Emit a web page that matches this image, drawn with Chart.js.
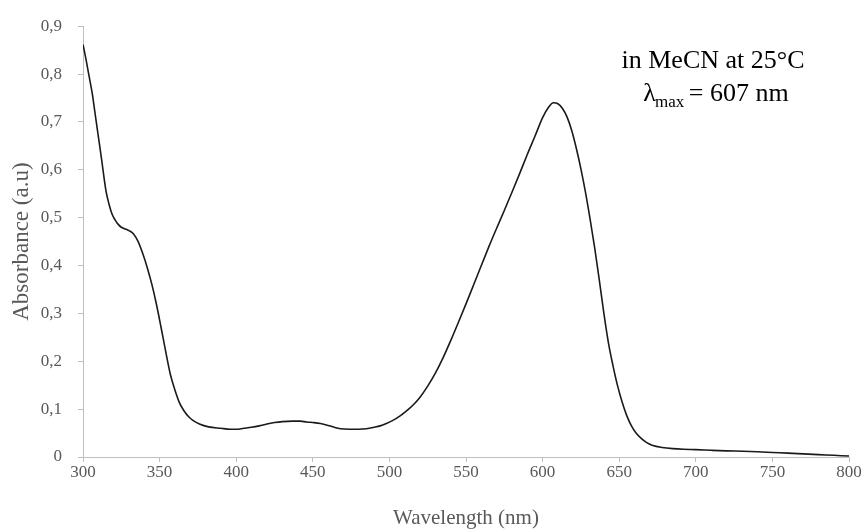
<!DOCTYPE html>
<html>
<head>
<meta charset="utf-8">
<script src="https://cdn.jsdelivr.net/npm/chart.js@4"></script>
<style>
  html, body { margin: 0; padding: 0; background: #fff; }
  #wrap { width: 867px; height: 531px; }
</style>
</head>
<body>
<div id="wrap"><canvas id="spectrum" width="867" height="531"></canvas></div>
<script>
// UV-Vis spectrum
const wavelengths = [
  300, 302, 304, 306, 308, 310, 312, 315, 317, 319, 321, 323, 325, 327, 330, 333, 336, 339, 342, 345,
  348, 351, 354, 357, 360, 363, 366, 369, 372, 376, 382, 390, 396, 400, 405, 410, 415,
  420, 425, 430, 437, 442, 446, 450, 455, 460, 464, 468, 474, 480, 485, 490, 494, 498, 502, 507, 511,
  515, 520, 525, 530, 535, 540, 545, 550, 555, 560, 565, 570, 575, 580, 585, 590, 595, 600, 604, 607,
  610, 613, 616, 619, 622, 625, 628, 631, 634, 637, 640, 643, 646, 649, 652, 655, 658, 661, 664, 668,
  672, 678, 685, 692, 700, 710, 720, 731, 740, 750, 760, 770, 780, 790, 800
];
const absorbance = [
  0.862, 0.83, 0.795, 0.76, 0.715, 0.67, 0.625, 0.556, 0.528, 0.507, 0.495, 0.486, 0.48, 0.477, 0.473, 0.466, 0.45, 0.425, 0.395, 0.36,
  0.318, 0.27, 0.22, 0.173, 0.14, 0.113, 0.096, 0.084, 0.076, 0.069, 0.063, 0.06, 0.058, 0.058, 0.06, 0.062, 0.065,
  0.069, 0.072, 0.074, 0.075, 0.075, 0.073, 0.072, 0.07, 0.066, 0.062, 0.059, 0.058, 0.058, 0.059, 0.062, 0.065, 0.07, 0.076, 0.086, 0.096,
  0.107, 0.125, 0.148, 0.175, 0.207, 0.243, 0.281, 0.32, 0.36, 0.4, 0.44, 0.478, 0.515, 0.553, 0.592, 0.632, 0.67, 0.709, 0.731, 0.74,
  0.738, 0.728, 0.71, 0.682, 0.645, 0.602, 0.553, 0.497, 0.437, 0.37, 0.3, 0.238, 0.19, 0.148, 0.114, 0.086, 0.065, 0.05, 0.04, 0.03,
  0.024, 0.02, 0.0175, 0.0162, 0.0154, 0.014, 0.0128, 0.012, 0.011, 0.0095, 0.008, 0.0065, 0.005, 0.0035, 0.002
];
const xTicks = [300, 350, 400, 450, 500, 550, 600, 650, 700, 750, 800];
const yTicks = [0, 0.1, 0.2, 0.3, 0.4, 0.5, 0.6, 0.7, 0.8, 0.9];
const noteLine1 = 'in MeCN at 25°C';
const noteLambda = 'λ';
const noteSub = 'max';
const noteRest = ' = 607 nm';

const serif = "'Liberation Serif', 'DejaVu Serif', serif";
const axisGrey = '#bfbfbf';
const labelGrey = '#595959';

function commaLabel(v) {
  if (v === 0) return '0';
  return v.toFixed(1).replace('.', ',');
}

// text box in the top right corner
const notePlugin = {
  id: 'note',
  afterDraw(chart) {
    const ctx = chart.ctx;
    const big = '26px ' + serif;
    const small = '17px ' + serif;
    ctx.save();
    ctx.fillStyle = '#000';
    ctx.textBaseline = 'alphabetic';

    ctx.font = big;
    ctx.textAlign = 'center';
    ctx.fillText(noteLine1, 713, 68);

    // lambda max line, drawn piece by piece for the subscript
    ctx.textAlign = 'left';
    const wL = ctx.measureText(noteLambda).width;
    const wR = ctx.measureText(noteRest).width;
    ctx.font = small;
    const wS = ctx.measureText(noteSub).width;
    let x = 716 - (wL + wS + wR - 3) / 2;
    ctx.font = big;
    ctx.fillText(noteLambda, x, 101);
    x += wL - 1;
    ctx.font = small;
    ctx.fillText(noteSub, x, 107);
    x += wS - 2;
    ctx.font = big;
    ctx.fillText(noteRest, x, 101);
    ctx.restore();
  }
};

const points = wavelengths.map((w, i) => ({ x: w, y: absorbance[i] }));

new Chart(document.getElementById('spectrum'), {
  type: 'scatter',
  data: {
    datasets: [{
      data: points,
      showLine: true,
      borderColor: '#1a1a1a',
      borderWidth: 1.6,
      pointRadius: 0,
      cubicInterpolationMode: 'monotone'
    }]
  },
  options: {
    responsive: false,
    animation: false,
    events: [],
    layout: { padding: { top: 25, right: 18, left: 0, bottom: 0 } },
    plugins: {
      legend: { display: false },
      tooltip: { enabled: false }
    },
    scales: {
      x: {
        type: 'linear',
        min: 300,
        max: 800,
        afterBuildTicks: s => { s.ticks = xTicks.map(v => ({ value: v })); },
        afterFit: s => { s.height = 74; },
        ticks: {
          color: labelGrey,
          font: { family: serif, size: 17 },
          padding: 0,
          maxRotation: 0
        },
        grid: { drawOnChartArea: false, color: axisGrey, tickLength: 5 },
        border: { color: axisGrey },
        title: {
          display: true,
          text: 'Wavelength (nm)',
          color: labelGrey,
          font: { family: serif, size: 21 },
          padding: { top: 0, bottom: 0 }
        }
      },
      y: {
        min: 0,
        max: 0.9,
        afterBuildTicks: s => { s.ticks = yTicks.map(v => ({ value: v })); },
        afterFit: s => { s.width = 83; },
        ticks: {
          color: labelGrey,
          font: { family: serif, size: 17 },
          padding: 16,
          callback: v => commaLabel(v)
        },
        grid: { drawOnChartArea: false, color: axisGrey, tickLength: 5 },
        border: { color: axisGrey },
        title: {
          display: true,
          text: 'Absorbance (a.u)',
          color: labelGrey,
          font: { family: serif, size: 23 },
          padding: { top: 8, bottom: 0 }
        }
      }
    }
  },
  plugins: [notePlugin]
});
</script>
</body>
</html>
